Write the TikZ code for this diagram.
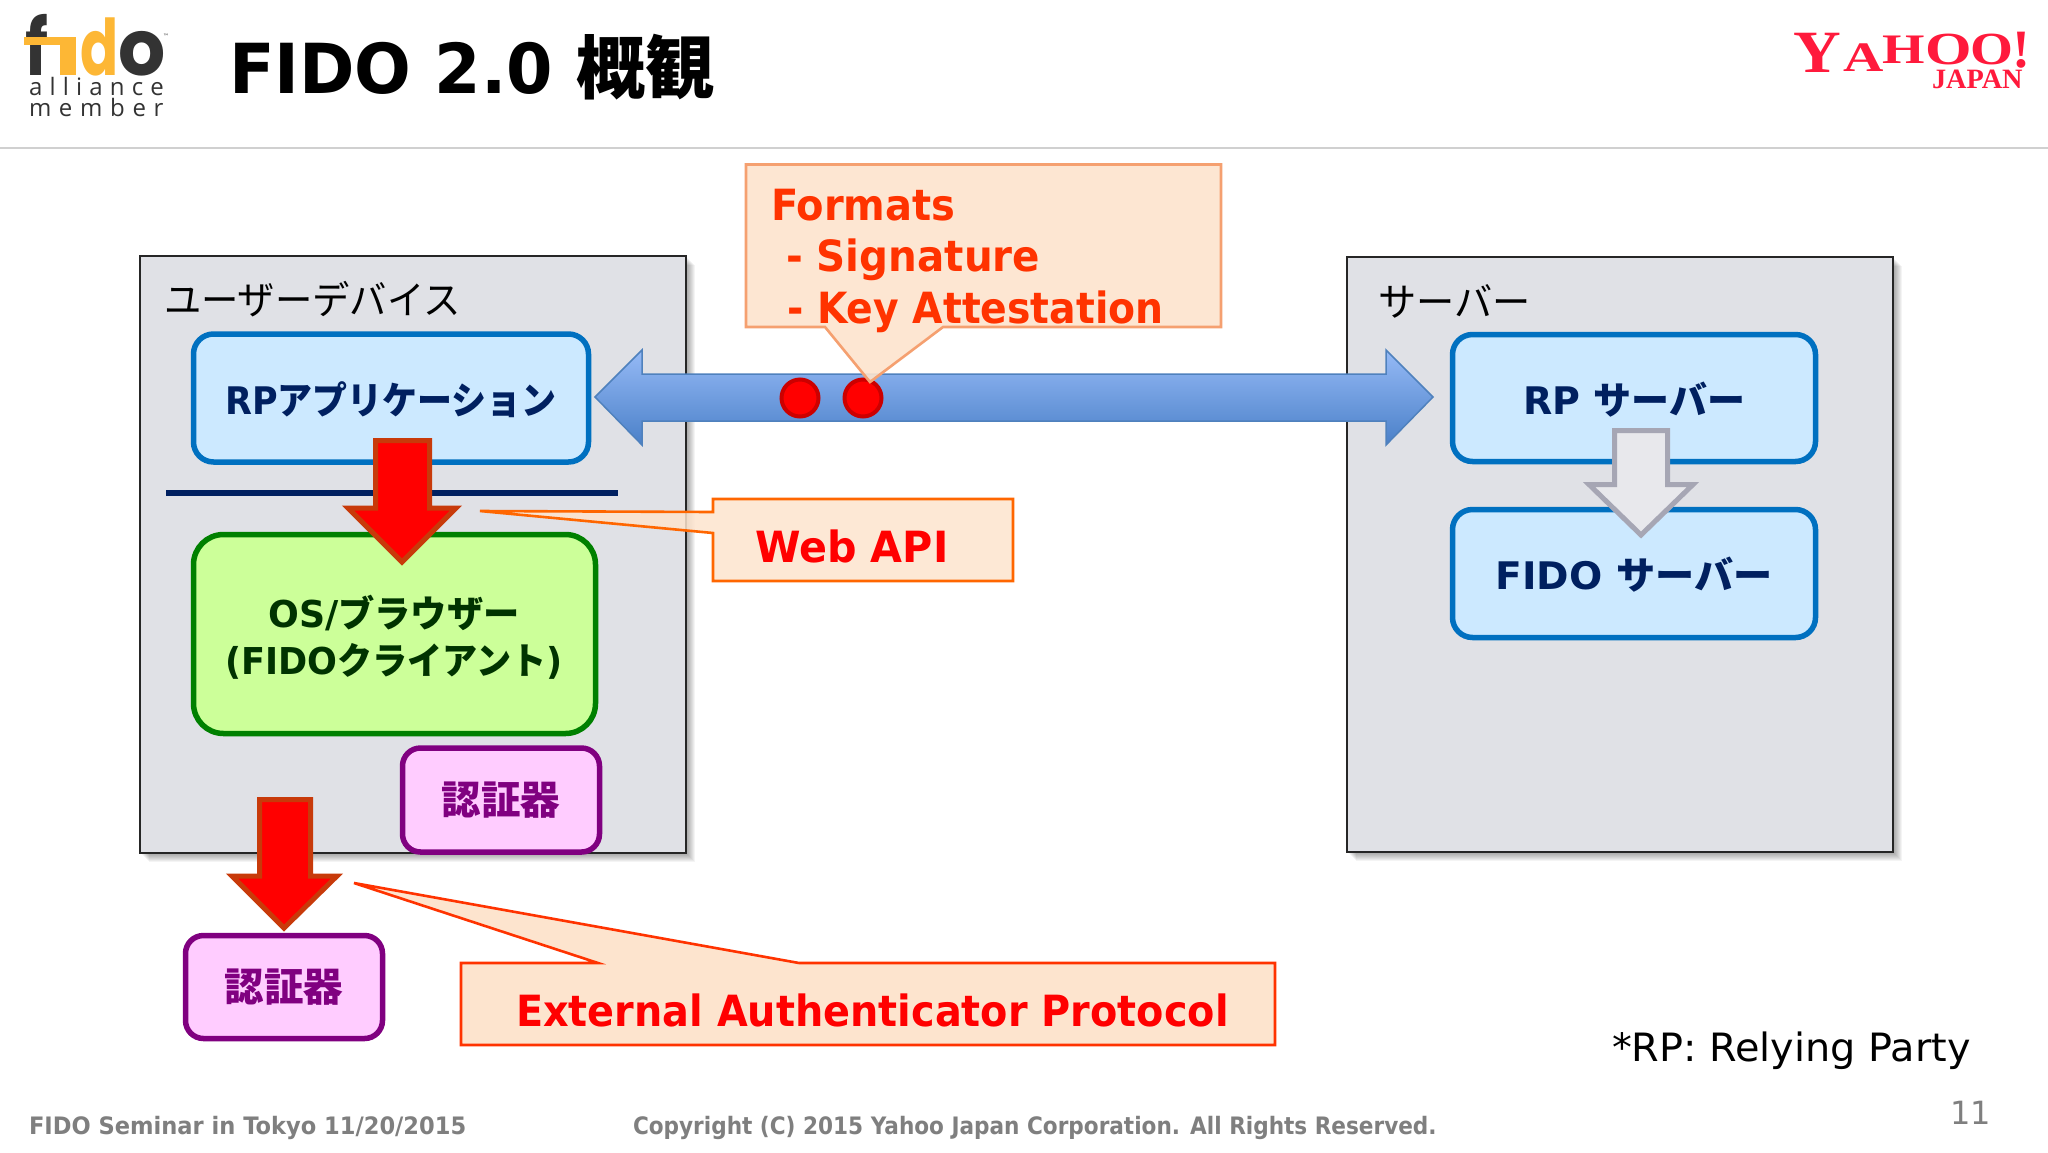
\documentclass[tikz,border=0pt]{standalone}
\usepackage{fontspec}
\setmainfont{DejaVu Sans}
\newfontfamily\jp{Noto Sans CJK JP}
\newfontfamily\logofont{Poppins}
\newfontfamily\logosmall[LetterSpace=30]{Open Sans}
\newfontfamily\logosmallb[LetterSpace=32]{Open Sans}
\newfontfamily\yfont{Liberation Serif}
\definecolor{navy}{HTML}{002060}
\definecolor{fidoY}{HTML}{FDB735}
\definecolor{fidoD}{HTML}{333333}
\definecolor{yred}{HTML}{FF1A3C}
\definecolor{ored}{HTML}{FF3300}
\definecolor{cfill}{HTML}{FDE4CE}
\definecolor{dgreen}{HTML}{003300}
\definecolor{foot}{HTML}{7F7F7F}
\tikzset{
  panel/.style={draw=black!85,line width=2.4pt,fill={rgb,255:red,224;green,225;blue,230}},
  blueBox/.style={draw={rgb,255:red,0;green,112;blue,192},line width=5.5pt,fill={rgb,255:red,204;green,233;blue,255},rounded corners=20pt},
  greenBox/.style={draw={rgb,255:red,0;green,128;blue,0},line width=5.5pt,fill={rgb,255:red,204;green,255;blue,153},rounded corners=30pt},
  authBox/.style={draw={rgb,255:red,128;green,0;blue,128},line width=5.5pt,fill={rgb,255:red,255;green,204;blue,255},rounded corners=18pt,text={rgb,255:red,128;green,0;blue,128},font=\jp\bfseries\fontsize{39.5}{42}\selectfont},
  redArrow/.style={draw={rgb,255:red,200;green,58;blue,10},line width=5pt,fill=red,miter limit=10},
  grayArrow/.style={draw={rgb,255:red,166;green,166;blue,180},line width=5pt,fill={rgb,255:red,232;green,232;blue,236},miter limit=10},
  calloutA/.style={draw={rgb,255:red,245;green,160;blue,112},line width=2.6pt,fill=cfill,fill opacity=.9},
  calloutB/.style={draw={rgb,255:red,255;green,102;blue,0},line width=2.6pt,fill=cfill,fill opacity=.85},
  calloutC/.style={draw=ored,line width=2.6pt,fill=cfill},
  callText/.style={font=\bfseries\fontsize{43}{46}\selectfont},
  boxLabel/.style={font=\bfseries\fontsize{38}{42}\selectfont},
  logoLetter/.style={font=\logofont\bfseries\fontsize{78}{80}\selectfont},
  dotMark/.style={circle,draw={rgb,255:red,204;green,0;blue,0},line width=4pt,fill=red,minimum size=37pt,inner sep=0pt},
  txt/.style={inner sep=0pt,outer sep=0pt},
  yLetter/.style={txt,anchor=base west,text=yred},
  footText/.style={text=foot,font=\bfseries\fontsize{24}{26}\selectfont},
}
\newcommand{\panelshadow}[4]{%
  \foreach \d in {1,2,...,9}{\fill[black,opacity=.045] (#1+\d,#2+\d) rectangle (#3+\d,#4+\d);}}
\begin{document}
\begin{tikzpicture}[x=1pt,y=-1pt]
\useasboundingbox (0,0) rectangle (2048,1152);
\fill[white] (0,0) rectangle (2048,1152);
% header rule
\draw[line width=1.5pt,draw={rgb,255:red,208;green,208;blue,208}] (0,148) -- (2048,148);
% fido logo
\node[txt,anchor=base west,text=fidoD,logoLetter,xscale=.82] (lf) at (25,75) {f};
\fill[fidoY] (24,37) rectangle (62,45);
\fill[fidoY] (60,37) rectangle (76,75);
\node[txt,anchor=base west,text=fidoY,logoLetter,xscale=.72] (ld) at (80,75) {d};
\node[txt,anchor=base west,text=fidoD,logoLetter,xscale=.95] (lo) at (118,75) {o};
\node[txt,text=fidoD,font=\fontsize{6}{7}\selectfont] (ltm) at (166,36) {™};
\node[txt,anchor=base west,text=fidoD,font=\logosmall\fontsize{24}{26}\selectfont] (la) at (29,95) {alliance};
\node[txt,anchor=base west,text=fidoD,font=\logosmallb\fontsize{24}{26}\selectfont] (lm) at (29,116) {member};
% title
\node[txt,anchor=base west,xscale=.968,font=\bfseries\fontsize{69}{72}\selectfont] (title) at (229,93) {FIDO 2.0};
\node[txt,anchor=base west,font=\jp\bfseries\fontsize{69}{72}\selectfont] (titlej) at (576,93) {概観};
% yahoo logo
\node[yLetter,xscale=1.1,font=\yfont\bfseries\fontsize{60}{60}\selectfont] (y1) at (1793,72) {Y};
\node[yLetter,xscale=1.33,font=\yfont\bfseries\fontsize{42}{50}\selectfont] (y2) at (1843,71) {A};
\node[yLetter,xscale=1.3,font=\yfont\bfseries\fontsize{42}{50}\selectfont] (y3) at (1882,63) {H};
\node[yLetter,xscale=1.3,font=\yfont\bfseries\fontsize{46}{50}\selectfont] (y4) at (1925,64) {O};
\node[yLetter,xscale=1.2,font=\yfont\bfseries\fontsize{46}{50}\selectfont] (y5) at (1970,64) {O};
\node[yLetter,font=\yfont\bfseries\fontsize{54}{50}\selectfont] (y6) at (2012,67) {!};
\node[yLetter,xscale=1.01,font=\yfont\bfseries\fontsize{28}{26}\selectfont] (y7) at (1932,88) {JAPAN};
% panels
\panelshadow{140}{256}{686}{853}
\panelshadow{1347}{257}{1893}{852}
\draw[panel] (140,256) rectangle (686,853);
\draw[panel] (1347,257) rectangle (1893,852);
\node[txt,anchor=west,xscale=.957,font=\jp\fontsize{39}{42}\selectfont] (devlabel) at (164,299) {ユーザーデバイス};
\node[txt,anchor=west,xscale=.98,font=\jp\fontsize{39}{42}\selectfont] (srvlabel) at (1378,301) {サーバー};
% boxes
\node[blueBox,minimum width=395pt,minimum height=128pt,inner sep=0pt] (rpapp) at (391,398) {};
\node[txt,text=navy,xscale=.92,boxLabel] (rpapplabel) at (391,400) {RP{\jp\bfseries アプリケーション}};
\draw[line width=6pt,draw=navy] (166,493) -- (618,493);
\node[greenBox,minimum width=402pt,minimum height=199pt,inner sep=0pt] (os) at (394.5,634) {};
\node[txt,text=dgreen,xscale=.98,font=\bfseries\fontsize{37}{40}\selectfont] (os1) at (394,613) {OS/{\jp\bfseries ブラウザー}};
\node[txt,text=dgreen,xscale=.95,font=\bfseries\fontsize{37}{40}\selectfont] (os2) at (394,661) {(FIDO{\jp\bfseries クライアント})};
\draw[redArrow] (375.5,440.5) -- (429.5,440.5) -- (429.5,508) -- (456,508) -- (402,562) -- (348,508) -- (375.5,508) -- cycle;
\node[authBox,minimum width=197pt,minimum height=104pt,inner sep=0pt] (auth1) at (501,800) {認証器};
\draw[redArrow] (259.5,799.5) -- (310.5,799.5) -- (310.5,876) -- (337,876) -- (284,928) -- (232,876) -- (259.5,876) -- cycle;
\node[authBox,minimum width=197pt,minimum height=103pt,inner sep=0pt] (auth2) at (284,987) {認証器};
% big blue arrow
\shade[top color={rgb,255:red,150;green,186;blue,246},bottom color={rgb,255:red,74;green,128;blue,200},draw={rgb,255:red,79;green,129;blue,189},line width=1.5pt]
  (595,397) -- (642,350) -- (642,374) -- (1386,374) -- (1386,350) -- (1433,397) -- (1386,445) -- (1386,421) -- (642,421) -- (642,445) -- cycle;
% tokens
\node[dotMark] (dot1) at (800,398) {};
\node[dotMark] (dot2) at (863,398) {};
% callouts
\draw[calloutA] (746,164.5) -- (1221,164.5) -- (1221,327) -- (943,327) -- (870,382) -- (825,327) -- (746,327) -- cycle;
\node[txt,anchor=west,text=ored,xscale=.93,callText] (fm1) at (771,205) {Formats};
\node[txt,anchor=west,text=ored,xscale=.94,callText] (fm2) at (786,260) {- Signature};
\node[txt,anchor=west,text=ored,xscale=.915,callText] (fm3) at (787,312) {- Key Attestation};
\draw[calloutB] (713,499) -- (1013,499) -- (1013,581) -- (713,581) -- (713,533) -- (480,511) -- (713,512) -- cycle;
\node[txt,anchor=west,text=red,xscale=.96,callText] (web) at (755,546) {Web API};
\draw[calloutC] (461,963) -- (598,963) -- (354,883) -- (799,963) -- (1275,963) -- (1275,1045) -- (461,1045) -- cycle;
\node[txt,anchor=west,text=red,xscale=.925,callText] (ext) at (516,1010) {External Authenticator Protocol};
% server side
\node[blueBox,minimum width=363pt,minimum height=127pt,inner sep=0pt] (rps) at (1634,398) {};
\node[txt,text=navy,boxLabel] (rpsl) at (1634,400) {RP {\jp\bfseries サーバー}};
\node[blueBox,minimum width=363pt,minimum height=128pt,inner sep=0pt] (fidos) at (1634,573.5) {};
\node[txt,text=navy,xscale=1.03,boxLabel] (fidosl) at (1634,575) {FIDO {\jp\bfseries サーバー}};
\draw[grayArrow] (1614.5,430.5) -- (1667.5,430.5) -- (1667.5,484.5) -- (1693,484.5) -- (1641,535) -- (1589,484.5) -- (1614.5,484.5) -- cycle;
% notes
\node[txt,anchor=west,xscale=1.02,font=\fontsize{39}{42}\selectfont] (note) at (1612,1051) {*RP: Relying Party};
\node[txt,anchor=base west,xscale=.94,footText] (f1) at (29,1134) {FIDO Seminar in Tokyo 11/20/2015};
\node[txt,anchor=base west,xscale=.90,footText] (f2) at (633,1134) {Copyright (C) 2015 Yahoo Japan Corporation. All Rights Reserved.};
\node[txt,anchor=base west,text=foot,font=\fontsize{32}{34}\selectfont] (pg) at (1950,1124) {11};
\end{tikzpicture}
\end{document}
